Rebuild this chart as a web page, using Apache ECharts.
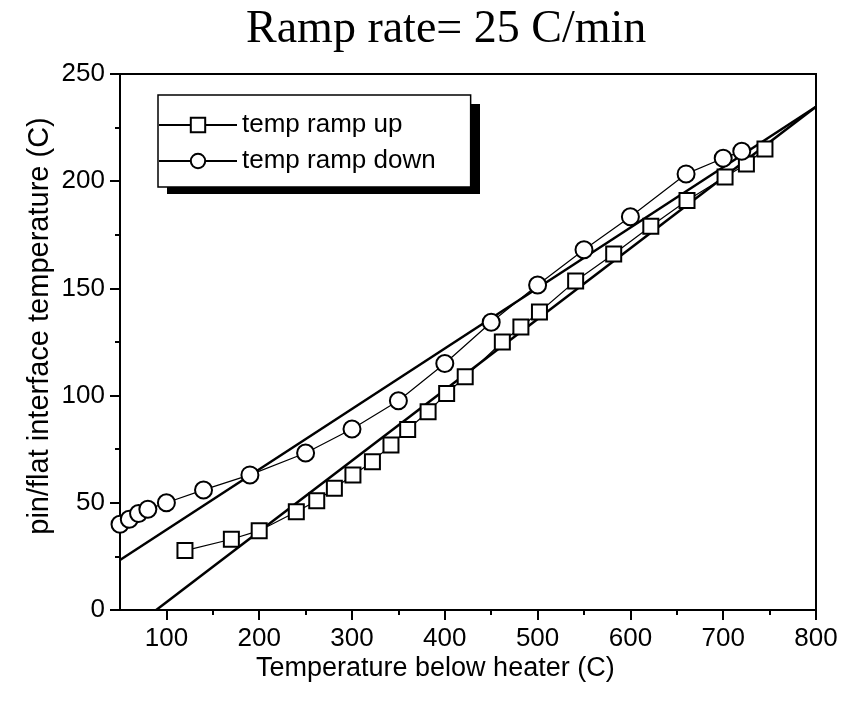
<!DOCTYPE html>
<html>
<head>
<meta charset="utf-8">
<script src="https://cdn.jsdelivr.net/npm/echarts@6/dist/echarts.min.js"></script>
<style>html,body{margin:0;padding:0;background:#fff;}#c{width:841px;height:711px;}</style>
</head>
<body>
<div id="c"></div>
<script>
// ---- data ----
const titleText = 'Ramp rate= 25 C/min';
const xAxisTitle = 'Temperature below heater (C)';
const yAxisTitle = 'pin/flat interface temperature (C)';
const seriesNames = ['temp ramp up', 'temp ramp down'];

const upX = [120, 170, 200, 240, 262, 281, 301, 322, 342, 360, 382, 402, 422, 462, 482, 502, 541, 582, 622, 661, 702, 725, 745];
const upY = [27.7, 33, 37, 45.8, 51, 56.8, 63, 69.2, 77, 84.2, 92.5, 101, 108.8, 125, 132, 139, 153.5, 166, 179, 191, 202, 208, 215];

const downX = [50, 60, 70, 80, 100, 140, 190, 250, 300, 350, 400, 450, 500, 550, 600, 660, 700, 720];
const downY = [40, 42.3, 45, 47, 50, 56, 63, 73.2, 84.4, 97.6, 115, 134.2, 151.6, 168, 183.4, 203.4, 210.7, 214];

// straight fit lines (end points)
const fitDownX = [50, 800];
const fitDownY = [23.3, 234.7];
const fitUpX = [89, 800];
const fitUpY = [0, 234.7];

const xMajorTicks = [100, 200, 300, 400, 500, 600, 700, 800];
const xMinorTicks = [150, 250, 350, 450, 550, 650, 750];

const zip = (xs, ys) => xs.map((x, i) => [x, ys[i]]);

const sans = 'Liberation Sans, Arial, Helvetica, sans-serif';
const chart = echarts.init(document.getElementById('c'), null, {renderer: 'canvas'});

chart.setOption({
  animation: false,
  backgroundColor: '#fff',
  title: {
    text: titleText,
    left: 246, top: 7, padding: 0,
    textStyle: {fontFamily: 'Liberation Serif, Times New Roman, serif', fontSize: 46, fontWeight: 'normal', color: '#000'}
  },
  grid: {left: 120, right: 25, top: 74, bottom: 101, show: true, borderColor: '#000', borderWidth: 2, backgroundColor: 'transparent'},
  legend: {
    orient: 'vertical', left: 158, top: 95,
    padding: [17, 35, 13, 0], itemGap: 10, itemWidth: 78, itemHeight: 18,
    backgroundColor: '#fff', borderColor: '#000', borderWidth: 1.5,
    textStyle: {fontFamily: sans, fontSize: 26, color: '#000'},
    data: seriesNames
  },
  xAxis: [{
    type: 'value', min: 50, max: 800, position: 'bottom',
    axisLine: {show: true, onZero: false, lineStyle: {color: '#000', width: 2}},
    axisTick: {show: true, customValues: xMajorTicks, length: 10, inside: false, lineStyle: {color: '#000', width: 2}},
    axisLabel: {show: true, customValues: xMajorTicks, margin: 16, color: '#000', fontFamily: sans, fontSize: 26},
    splitLine: {show: false}
  }, {
    type: 'value', min: 50, max: 800, position: 'bottom', gridIndex: 0,
    axisLine: {show: false},
    axisTick: {show: true, customValues: xMinorTicks, length: 5, lineStyle: {color: '#000', width: 2}},
    axisLabel: {show: false},
    splitLine: {show: false}
  }],
  yAxis: {
    type: 'value', min: 0, max: 250, interval: 50,
    axisLine: {show: true, onZero: false, lineStyle: {color: '#000', width: 2}},
    axisTick: {show: true, length: 10, lineStyle: {color: '#000', width: 2}},
    minorTick: {show: true, splitNumber: 2, length: 5, lineStyle: {color: '#000', width: 2}},
    axisLabel: {margin: 15, color: '#000', fontFamily: sans, fontSize: 26},
    splitLine: {show: false}
  },
  graphic: [
    {type: 'rect', z: 3, shape: {x: 167, y: 104, width: 313, height: 90}, style: {fill: '#000'}},
    {type: 'text', left: 256, top: 655, z: 10,
     style: {text: xAxisTitle, font: '27px ' + sans, fill: '#000'}},
    {type: 'text', x: 40, y: 326, rotation: Math.PI / 2, z: 10,
     style: {text: yAxisTitle, font: '29px ' + sans, fill: '#000', align: 'center', verticalAlign: 'middle', textAlign: 'center', textVerticalAlign: 'middle'}}
  ],
  series: [
    {
      name: seriesNames[0], type: 'line', data: zip(upX, upY),
      symbol: 'rect', symbolSize: 15, showAllSymbol: true,
      lineStyle: {color: '#000', width: 1.2},
      itemStyle: {color: '#fff', borderColor: '#000', borderWidth: 2},
      z: 5
    },
    {
      name: seriesNames[1], type: 'line', data: zip(downX, downY),
      symbol: 'circle', symbolSize: 17, showAllSymbol: true,
      lineStyle: {color: '#000', width: 1.2},
      itemStyle: {color: '#fff', borderColor: '#000', borderWidth: 2},
      z: 5
    },
    {
      name: 'fit down', type: 'line', data: zip(fitDownX, fitDownY),
      symbol: 'none', lineStyle: {color: '#000', width: 2.5}, z: 3, silent: true
    },
    {
      name: 'fit up', type: 'line', data: zip(fitUpX, fitUpY),
      symbol: 'none', lineStyle: {color: '#000', width: 2.5}, z: 3, silent: true
    }
  ]
});
</script>
</body>
</html>
